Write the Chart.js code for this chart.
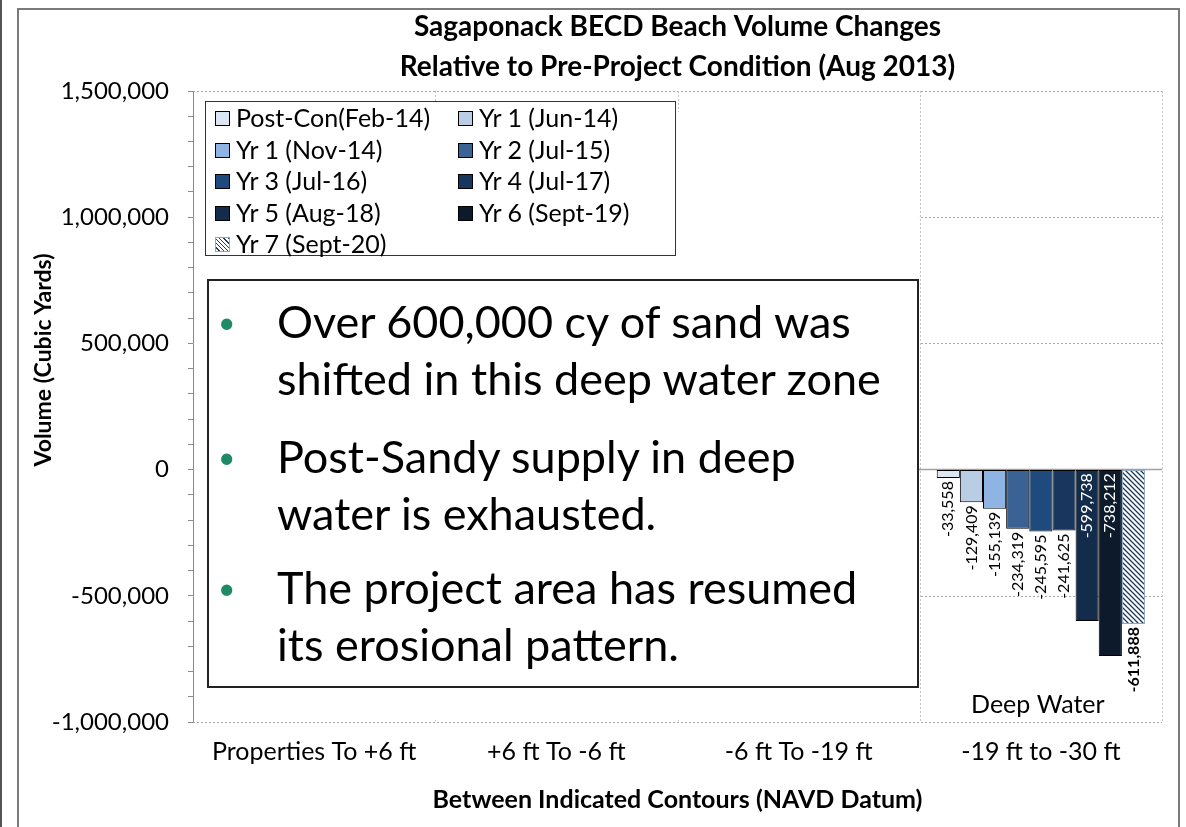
<!DOCTYPE html>
<html>
<head>
<meta charset="utf-8">
<script src="https://cdn.jsdelivr.net/npm/chart.js@4.4.1/dist/chart.umd.min.js"></script>
<style>
  body { margin: 0; background: #fff; font-family: Lato, sans-serif; }
  #wrap { position: relative; width: 1186px; height: 827px; overflow: hidden; background: #fff; }
  #chart { position: absolute; left: 0; top: 0; }
  .frame { position: absolute; left: 17px; top: 8px; width: 1159px; height: 840px; border: 2px solid #7a7a7a; }
  .edge { position: absolute; left: 0; top: 0; width: 2px; height: 827px; background: #555; }
  #legend { position: absolute; left: 205px; top: 101px; width: 469px; height: 153px; border: 1.5px solid #333; background: #fff; }
  .item { position: absolute; font-size: 25px; line-height: 28px; white-space: nowrap; color: #000; }
  .sw { display: inline-block; width: 13px; height: 13px; border: 1px solid #000; margin-right: 6px; vertical-align: 1px; }
  #note { position: absolute; left: 207px; top: 279px; width: 708px; height: 405px; border: 2px solid #222; background: #fff; }
  .bul { position: absolute; left: 68px; font-size: 45px; line-height: 57px; white-space: nowrap; color: #000; }
  .dot { position: absolute; left: 9px; font-size: 30px; line-height: 57px; color: #1f8a66; }
  #ytitle { position: absolute; left: 42px; top: 360px; transform: translate(-50%, -50%) rotate(-90deg); font-weight: bold; font-size: 23px; white-space: nowrap; }
</style>
</head>
<body>
<div id="wrap">
  <canvas id="chart" width="1186" height="827"></canvas>
  <div class="edge"></div>
  <div class="frame"></div>
  <div id="ytitle">Volume (Cubic Yards)</div>
  <div id="legend"></div>
  <div id="note">
    <div class="dot" style="top:12px">&#8226;</div>
    <div class="bul" style="top:12px">Over 600,000 cy of sand was<br>shifted in this deep water zone</div>
    <div class="dot" style="top:147px">&#8226;</div>
    <div class="bul" style="top:147px">Post-Sandy supply in deep<br>water is exhausted.</div>
    <div class="dot" style="top:278px">&#8226;</div>
    <div class="bul" style="top:278px">The project area has resumed<br>its erosional pattern.</div>
  </div>
</div>
<script>
// categories along the bottom
const categories = ['Properties To +6 ft', '+6 ft To -6 ft', '-6 ft To -19 ft', '-19 ft to -30 ft'];

// survey series (first three zones are hidden behind the note in the slide)
const seriesNames = ['Post-Con(Feb-14)', 'Yr 1 (Jun-14)', 'Yr 1 (Nov-14)', 'Yr 2 (Jul-15)', 'Yr 3 (Jul-16)',
                     'Yr 4 (Jul-17)', 'Yr 5 (Aug-18)', 'Yr 6 (Sept-19)', 'Yr 7 (Sept-20)'];
const postCon = [null, null, null, -33558];
const yr1Jun  = [null, null, null, -129409];
const yr1Nov  = [null, null, null, -155139];
const yr2     = [null, null, null, -234319];
const yr3     = [null, null, null, -245595];
const yr4     = [null, null, null, -241625];
const yr5     = [null, null, null, -599738];
const yr6     = [null, null, null, -738212];
const yr7     = [null, null, null, -611888];
const seriesValues = [postCon, yr1Jun, yr1Nov, yr2, yr3, yr4, yr5, yr6, yr7];

// y axis ticks shown with labels
const yLabelTicks = [1500000, 1000000, 500000, 0, -500000, -1000000];

const colors = ['#dce6f2', '#b9cde5', '#8eb4e3', '#3a6295', '#1f4a7e', '#19375e', '#142c4c', '#0c1a2c', 'hatch'];
const labelInside = [false, false, false, false, false, false, true, true, false];

function hatch() {
  let c = document.createElement('canvas');
  c.width = 5; c.height = 5;
  let g = c.getContext('2d');
  g.fillStyle = '#fff';
  g.fillRect(0, 0, 5, 5);
  g.strokeStyle = '#1f3a60';
  g.lineWidth = 1.3;
  g.beginPath();
  g.moveTo(-1, -1); g.lineTo(6, 6);
  g.moveTo(-1, 4); g.lineTo(1, 6);
  g.moveTo(4, -1); g.lineTo(6, 1);
  g.stroke();
  return g.createPattern(c, 'repeat');
}
const hatchFill = hatch();

// html legend, two columns
let legend = document.getElementById('legend');
seriesNames.forEach(function(name, i) {
  let d = document.createElement('div');
  d.className = 'item';
  d.style.left = (i % 2 == 0 ? 9 : 252) + 'px';
  d.style.top = (1 + Math.floor(i / 2) * 31.5) + 'px';
  let bg = colors[i] == 'hatch'
    ? 'background: repeating-linear-gradient(45deg, #fff 0 2px, #1f3a60 2px 3px); border-color:#8ea9c8'
    : 'background:' + colors[i];
  d.innerHTML = '<span class="sw" style="' + bg + '"></span>' + name;
  legend.appendChild(d);
});

Chart.defaults.font.family = 'Lato, sans-serif';
Chart.defaults.color = '#000';

const gridPlugin = {
  id: 'gridPlugin',
  beforeDatasetsDraw(chart) {
    const ctx = chart.ctx, x = chart.scales.x, y = chart.scales.y;
    const b3 = (x.getPixelForValue(2) + x.getPixelForValue(3)) / 2;
    ctx.save();
    ctx.lineWidth = 1;
    ctx.setLineDash([2, 2]);
    ctx.strokeStyle = '#a8a8a8';
    yLabelTicks.forEach(function(v) {
      if (v == 0) return;
      let py = Math.round(y.getPixelForValue(v)) + 0.5;
      ctx.beginPath(); ctx.moveTo(x.left, py); ctx.lineTo(x.right, py); ctx.stroke();
    });
    ctx.strokeStyle = '#c4c4c4';
    for (let k = 1; k <= 4; k++) {
      let px = Math.round(k < 4 ? (x.getPixelForValue(k - 1) + x.getPixelForValue(k)) / 2 : x.right) + 0.5;
      ctx.beginPath(); ctx.moveTo(px, y.top); ctx.lineTo(px, y.bottom); ctx.stroke();
    }
    ctx.setLineDash([]);
    ctx.strokeStyle = '#a0a0a0';
    ctx.lineWidth = 1.5;
    let zy = y.getPixelForValue(0);
    ctx.beginPath(); ctx.moveTo(x.left, zy); ctx.lineTo(x.right, zy); ctx.stroke();
    // white cover over the first three zones, as in the slide
    ctx.fillStyle = '#fff';
    ctx.fillRect(x.left + 1, y.top + 21, b3 - x.left - 2, y.bottom - y.top - 23);
    ctx.restore();
  },
  afterDatasetsDraw(chart) {
    const ctx = chart.ctx, x = chart.scales.x, y = chart.scales.y;
    ctx.save();
    chart.data.datasets.forEach(function(ds, i) {
      let meta = chart.getDatasetMeta(i);
      meta.data.forEach(function(el, j) {
        let v = ds.data[j];
        if (v == null) return;
        let inside = labelInside[i];
        ctx.save();
        ctx.translate(el.x, (inside ? el.base : el.y) + 3);
        ctx.rotate(-Math.PI / 2);
        ctx.textAlign = 'right';
        ctx.textBaseline = 'middle';
        ctx.font = (i == 8 ? 'bold ' : '') + '16px Lato, sans-serif';
        ctx.fillStyle = inside ? '#fff' : '#000';
        ctx.fillText(v.toLocaleString('en-US'), 0, 0);
        ctx.restore();
      });
    });
    ctx.font = '25px Lato, sans-serif';
    ctx.fillStyle = '#000';
    ctx.textAlign = 'center';
    ctx.textBaseline = 'middle';
    ctx.fillText('Deep Water', x.getPixelForValue(3) - 3, y.bottom - 17);
    ctx.restore();
  }
};

new Chart(document.getElementById('chart'), {
  type: 'bar',
  data: {
    labels: categories,
    datasets: seriesNames.map(function(name, i) {
      return {
        label: name,
        data: seriesValues[i],
        backgroundColor: colors[i] == 'hatch' ? hatchFill : colors[i],
        borderColor: colors[i] == 'hatch' ? '#8ea9c8' : '#000',
        borderWidth: 1,
        borderSkipped: false,
        categoryPercentage: 0.86,
        barPercentage: 1.0
      };
    })
  },
  options: {
    responsive: false,
    animation: false,
    layout: { padding: { left: 0, right: 24, top: 0, bottom: 0 } },
    plugins: {
      legend: { display: false },
      tooltip: { enabled: false },
      title: {
        display: true,
        fullSize: false,
        text: ['Sagaponack BECD Beach Volume Changes', 'Relative to Pre-Project Condition (Aug 2013)'],
        font: { size: 28, weight: 'bold', lineHeight: 40 / 28 },
        padding: { top: 7, bottom: 4 }
      }
    },
    scales: {
      x: {
        grid: { display: false, drawTicks: false },
        border: { display: false },
        ticks: { font: { size: 25 }, padding: 15, maxRotation: 0, autoSkip: false },
        title: {
          display: true,
          text: 'Between Indicated Contours (NAVD Datum)',
          font: { size: 25, weight: 'bold' },
          padding: { top: 0, bottom: 12 }
        },
        afterFit: function(s) { s.height = 105; }
      },
      y: {
        min: -1000000,
        max: 1500000,
        grid: { drawOnChartArea: false, tickLength: 5, tickColor: '#8a8a8a', color: '#8a8a8a' },
        border: { color: '#8a8a8a', width: 1 },
        ticks: {
          stepSize: 100000,
          autoSkip: false,
          padding: 19,
          font: { size: 24 },
          callback: function(v) { return yLabelTicks.includes(v) ? v.toLocaleString('en-US') : ''; }
        },
        afterFit: function(s) { s.width = 193; }
      }
    }
  },
  plugins: [gridPlugin]
});
</script>
</body>
</html>
